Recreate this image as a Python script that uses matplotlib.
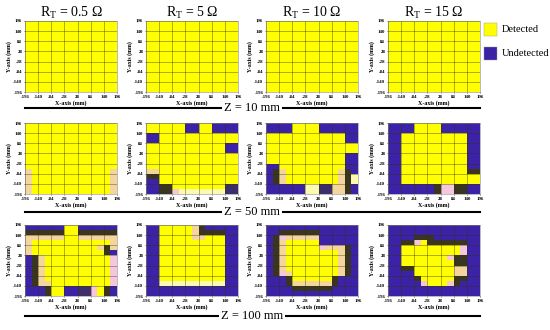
import numpy as np
import matplotlib
matplotlib.use("Agg")
import matplotlib.pyplot as plt
from matplotlib.colors import ListedColormap
from matplotlib.lines import Line2D
from matplotlib.patches import Rectangle

plt.rcParams['font.family'] = ['Liberation Serif', 'DejaVu Serif']
plt.rcParams['mathtext.fontset'] = 'custom'
plt.rcParams['mathtext.rm'] = 'Liberation Serif'

# Data
# Cell codes on a 28 mm grid, top row first (y = 196 ... -196), left to right (x = -196 ... 196)
# Y detected, B undetected, D dark edge, N dark blue edge, P peach, K pink, L pale yellow
resistances = ['0.5', '5', '10', '15']
distances = ['10', '50', '100']
ticks = [-196, -140, -84, -28, 28, 84, 140, 196]

all_detected = [
    "YYYYYYYYYYYYYY",
    "YYYYYYYYYYYYYY",
    "YYYYYYYYYYYYYY",
    "YYYYYYYYYYYYYY",
    "YYYYYYYYYYYYYY",
    "YYYYYYYYYYYYYY",
    "YYYYYYYYYYYYYY",
    "YYYYYYYYYYYYYY",
    "YYYYYYYYYYYYYY",
    "YYYYYYYYYYYYYY",
    "YYYYYYYYYYYYYY",
    "YYYYYYYYYYYYYY",
    "YYYYYYYYYYYYYY",
    "YYYYYYYYYYYYYY",
]

z50_r05 = [
    "YYYYYYYYYYYYYY",
    "YYYYYYYYYYYYYY",
    "YYYYYYYYYYYYYY",
    "YYYYYYYYYYYYYY",
    "YYYYYYYYYYYYYY",
    "YYYYYYYYYYYYYY",
    "YYYYYYYYYYYYYY",
    "YYYYYYYYYYYYYY",
    "YYYYYYYYYYYYYY",
    "PYYYYYYYYYYYYP",
    "PYYYYYYYYYYYYP",
    "PYYYYYYYYYYYYP",
    "PYYYYYYYYYYYYP",
    "PYYYYYYYYYYYYP",
]

z50_r5 = [
    "YYYYYYBBYYBBBB",
    "YYYYYYBBYYBBBB",
    "BBYYYYYYYYYYYY",
    "BBYYYYYYYYYYYY",
    "YYYYYYYYYYYYBB",
    "YYYYYYYYYYYYBB",
    "YYYYYYYYYYYYYY",
    "YYYYYYYYYYYYYY",
    "YYYYYYYYYYYYYY",
    "PPYYYYYYYYYYYY",
    "DDYYYYYYYYYYYY",
    "BBYYYYYYYYYYYY",
    "BBDDYYYYYYYYNN",
    "BBDDKLLLLLLLNN",
]

z50_r10 = [
    "BBBBYYYYBBBBBB",
    "BBBBYYYYBBBBBB",
    "YYYYYYYYYYYYBB",
    "YYYYYYYYYYYYBB",
    "YYYYYYYYYYYYYY",
    "YYYYYYYYYYYYYY",
    "YYYYYYYYYYYYBB",
    "YYYYYYYYYYYYBB",
    "BBYYYYYYYYYYBB",
    "BDPYYYYYYYYPDB",
    "BDPYYYYYYYYPDL",
    "BDPYYYYYYYYPDL",
    "BBBBBBLLNNPPDB",
    "BBBBBBLLNNPPDB",
]

z50_r15 = [
    "BBBBYYYYBBBBBB",
    "BBBBYYYYBBBBBB",
    "BBYYYYYYYYYYBB",
    "BBYYYYYYYYYYBB",
    "BBYYYYYYYYYYBB",
    "BBYYYYYYYYYYBB",
    "BBYYYYYYYYYYBB",
    "BBYYYYYYYYYYBB",
    "BBYYYYYYYYYYBB",
    "BBYYYYYYYYYYDD",
    "BBYYYYYYYYYYYY",
    "BBYYYYYYYYYYYY",
    "BBBBBBBDKKDDBB",
    "BBBBBBBDKKDDBB",
]

z100_r05 = [
    "BBBBBBYYBBBBBB",
    "DDDDDDYYDDDDDD",
    "PPPPPPYYPPPPPP",
    "PYYYYYYYYYYYYP",
    "PYYYYYYYYYYPDP",
    "PYYYYYYYYYYYDB",
    "BDPYYYYYYYYYYK",
    "BDPYYYYYYYYYYK",
    "BDPYYYYYYYYYYK",
    "BDPYYYYYYYYYYK",
    "BDPYYYYYYYYYYK",
    "BDPPYYYYYYYYYK",
    "BBBDYYBBNNKYDB",
    "BBBDYYBBNNKYDB",
]

z100_r5 = [
    "BBYYYYYPDBBBBB",
    "BBYYYYYPDDDDBB",
    "BBYYYYYPPYYYBB",
    "BBYYYYYYYYYYBB",
    "BBYYYYYYYYYYBB",
    "BBYYYYYYYYYYBB",
    "BBYYYYYYYYYYBB",
    "BBYYYYYYYYYYBB",
    "BBYYYYYYYYYYBB",
    "BBYYYYYYYYYYBB",
    "BBYYYYYYYYYYBB",
    "BBLLLLLLLLLLBB",
    "BBBBBBBBBBBBBB",
    "BBBBBBBBBBBBBB",
]

z100_r10 = [
    "BBBBBBBBBBBBBB",
    "BBDDDDDDBBBBBB",
    "BDKPPPPPBBBBBB",
    "BDPYYYYYBBBBBB",
    "BDPYYYYYKPPPDB",
    "BDPYYYYYYYYPDB",
    "BDPYYYYYYYYPDB",
    "BDPYYYYYYYYPDB",
    "BDPYYYYYYYYPDB",
    "BDKPYYYYYYYPDB",
    "BBBDYYYYYYDBBB",
    "BBBDPPPPPPDBBB",
    "BBBBDDDDDDBBBB",
    "BBBBBBBBBBBBBB",
]

z100_r15 = [
    "BBBBBBBBBBBBBB",
    "BBBBBBBBBBBBBB",
    "BBBBDDDBBBBBBB",
    "BBDDKYDDDDDDBB",
    "BBYYYYYYYYYKBB",
    "BBYYYYYYYYYKBB",
    "BBYYYYYYYKDDBB",
    "BBYYYYYYYYDDBB",
    "BBDDYYYYYYPPBB",
    "BBBBYYYYYYPPBB",
    "BBBBDYYYYYDDBB",
    "BBBBBKYYYKDBBB",
    "BBBBBBBBBBBBBB",
    "BBBBBBBBBBBBBB",
]

panels = [
    [all_detected, all_detected, all_detected, all_detected],
    [z50_r05, z50_r5, z50_r10, z50_r15],
    [z100_r05, z100_r5, z100_r10, z100_r15],
]

codes = "YBDNPKL"
colors = ['#ffff00', '#3b22a6', '#3a3520', '#3d2f6b', '#f5d59e', '#f6c6dc', '#fafab0']
cmap = ListedColormap(colors)

W, H = 550, 330
fig = plt.figure(figsize=(5.5, 3.3), dpi=100)

col_left = [25, 146, 266, 388]
row_top = [21, 123, 225]
pw, ph = 92, 71
z_line_y = [108, 212, 316]

for r in range(3):
    for c in range(4):
        grid = np.array([[codes.index(ch) for ch in row] for row in panels[r][c]])
        ax = fig.add_axes([col_left[c] / W, 1 - (row_top[r] + ph) / H, pw / W, ph / H])
        ax.imshow(grid, cmap=cmap, vmin=-0.5, vmax=len(codes) - 0.5,
                  extent=(-196, 196, -196, 196), aspect='auto', interpolation='nearest')
        ax.set_xticks(ticks)
        ax.set_yticks(ticks)
        ax.set_xticklabels(ticks, fontsize=3.5, fontweight='bold')
        ax.set_yticklabels(ticks, fontsize=3.5, fontweight='bold')
        ax.tick_params(length=1, width=0.4, pad=1)
        ax.grid(True, color='#333300', alpha=0.55, lw=0.5)
        for s in ax.spines.values():
            s.set_linewidth(0.4)
            s.set_color('#888888')
        ax.set_xlabel('X-axis (mm)', fontsize=4.3, fontweight='bold', labelpad=1)
        ax.set_ylabel('Y-axis (mm)', fontsize=4.3, fontweight='bold', labelpad=1)
        if r == 0:
            ax.set_title(r'R$_{\rm T}$ = ' + resistances[c] + ' \u03a9', fontsize=10, pad=3)

    # Z label with a rule across the grid
    y = 1 - z_line_y[r] / H
    fig.add_artist(Line2D([25 / W, 480 / W], [y, y], color='black', lw=1.5))
    fig.text(252 / W, y, 'Z = ' + distances[r] + ' mm', fontsize=9, ha='center', va='center',
             bbox=dict(facecolor='white', edgecolor='none', pad=1.5))

# legend
for i, (name, colr) in enumerate([('Detected', colors[0]), ('Undetected', colors[1])]):
    ytop = 23 + i * 24
    fig.add_artist(Rectangle((484 / W, 1 - (ytop + 13) / H), 13 / W, 13 / H,
                             facecolor=colr, edgecolor='#999999', lw=0.3))
    fig.text(502 / W, 1 - (ytop + 6.5) / H, name, fontsize=7.5, va='center', ha='left')

fig.savefig('out.png', dpi=100)
